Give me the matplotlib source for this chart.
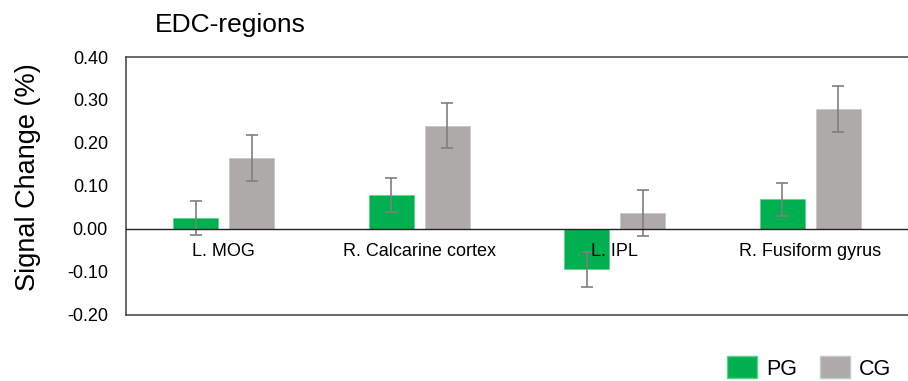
import matplotlib
matplotlib.use("Agg")
import matplotlib.pyplot as plt
import numpy as np
from matplotlib.patches import Patch
import matplotlib.transforms as mtransforms

plt.rcParams['font.family'] = ['Liberation Sans', 'DejaVu Sans']

categories = ["L. MOG", "R. Calcarine cortex", "L. IPL", "R. Fusiform gyrus"]
pg_values = [0.025, 0.078, -0.095, 0.068]
pg_errors = [0.039, 0.039, 0.040, 0.039]
cg_values = [0.165, 0.240, 0.036, 0.279]
cg_errors = [0.054, 0.053, 0.053, 0.054]
yticks = [-0.20, -0.10, 0.00, 0.10, 0.20, 0.30, 0.40]

green = "#00B050"
gray = "#AEAAAA"
errc = "#7F7F7F"
spc = "#404040"

fig = plt.figure(figsize=(9.08, 3.81), dpi=100)
ax = fig.add_axes([126/908, 66.5/381, 782/908, 257.5/381])

x = np.arange(len(categories))
w = 0.23
off = 0.143
ax.bar(x - off, pg_values, w, color=green, edgecolor="#5fd08f", linewidth=0.6,
       yerr=pg_errors, error_kw=dict(ecolor=errc, elinewidth=1.2, capsize=4, capthick=1.2), zorder=2)
ax.bar(x + off, cg_values, w, color=gray, edgecolor="#c9c6c6", linewidth=0.6,
       yerr=cg_errors, error_kw=dict(ecolor=errc, elinewidth=1.2, capsize=4, capthick=1.2), zorder=2)

ax.axhline(0, color="#222222", linewidth=1.0, zorder=3)
ax.set_xlim(-0.5, len(categories) - 0.5)
ax.set_ylim(-0.20, 0.40)
ax.set_yticks(yticks)
ax.set_yticklabels([f"{t:.2f}" for t in yticks], fontsize=13)
ax.tick_params(axis='y', length=0, pad=13)
ax.set_xticks([])

for s in ['left', 'top', 'bottom']:
    ax.spines[s].set_color(spc)
    ax.spines[s].set_linewidth(1.1)
ax.spines['right'].set_visible(False)

trans = mtransforms.offset_copy(ax.transData, fig=fig, x=0, y=-10, units='points')
for i, c in enumerate(categories):
    ax.text(x[i], 0, c, transform=trans, ha='center', va='top', fontsize=13, zorder=4)

fig.text(28/908, 1 - 177/381, "Signal Change (%)", fontsize=19.5, rotation=90,
         ha='center', va='center')
fig.text(155/908, 1 - 25/381, "EDC-regions", fontsize=19, ha='left', va='center')

handles = [Patch(facecolor=green, edgecolor="#5fd08f", label="PG"),
           Patch(facecolor=gray, edgecolor="#c9c6c6", label="CG")]
fig.legend(handles=handles, loc='center left', bbox_to_anchor=(727/908, 1 - 368/381),
           ncol=2, frameon=False, fontsize=15.5, handlelength=1.4, handleheight=1.2,
           columnspacing=1.05, handletextpad=0.42, borderaxespad=0, borderpad=0)

fig.savefig("out.png", dpi=100)
